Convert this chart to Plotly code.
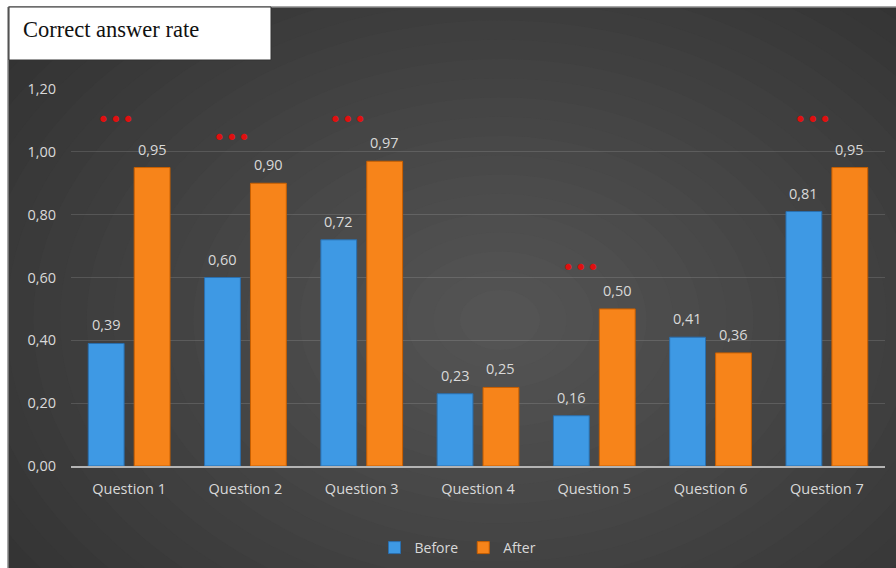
import plotly.graph_objects as go

categories = ["Question 1", "Question 2", "Question 3", "Question 4", "Question 5", "Question 6", "Question 7"]
before = [0.39, 0.60, 0.72, 0.23, 0.16, 0.41, 0.81]
after = [0.95, 0.90, 0.97, 0.25, 0.50, 0.36, 0.95]
sig_categories = ["Question 1", "Question 2", "Question 3", "Question 5", "Question 7"]
sig_levels = [1.10, 1.045, 1.10, 0.63, 1.10]
sig_marks = ["***", "***", "***", "***", "***"]
y_ticks = [0.0, 0.2, 0.4, 0.6, 0.8, 1.0, 1.2]

W, H = 896, 568
L, R, T, B = 71, 11, 89, 102
pw, ph = W - L - R, H - T - B
BARGAP, GROUPGAP = 0.21, 0.22

def px_x(p):
    return (p - L) / pw

def px_y(p):
    return (H - B - p) / ph

fig = go.Figure()
fig.add_trace(go.Bar(
    x=categories, y=before, name="Before",
    marker=dict(color="#3e99e4", line=dict(color="#2a6fae", width=1)),
))
fig.add_trace(go.Bar(
    x=categories, y=after, name="After",
    marker=dict(color="#f7841a", line=dict(color="#c85f00", width=1)),
))

shapes = []
# radial-ish gradient background
n = 28
cx, cy = 500, 320
outer = (44, 44, 44)
inner = (84, 84, 84)
for i in range(n):
    f = i / (n - 1)
    rx = 720 * (1 - f) + 40
    ry = 520 * (1 - f) + 30
    c = tuple(int(outer[k] + (inner[k] - outer[k]) * f) for k in range(3))
    shapes.append(dict(type="circle", xref="paper", yref="paper",
                       x0=px_x(cx - rx), x1=px_x(cx + rx), y0=px_y(cy + ry), y1=px_y(cy - ry),
                       fillcolor="rgb(%d,%d,%d)" % c, line=dict(width=0), layer="below"))
# white margins
shapes.append(dict(type="rect", xref="paper", yref="paper", x0=px_x(-5), x1=px_x(8), y0=px_y(H + 5), y1=px_y(-5),
                   fillcolor="white", line=dict(width=0), layer="below"))
shapes.append(dict(type="rect", xref="paper", yref="paper", x0=px_x(-5), x1=px_x(W + 5), y0=px_y(7), y1=px_y(-5),
                   fillcolor="white", line=dict(width=0), layer="below"))
# border lines
shapes.append(dict(type="line", xref="paper", yref="paper", x0=px_x(8), x1=px_x(8), y0=px_y(7), y1=px_y(H + 2),
                   line=dict(color="#8a8a8a", width=1.5), layer="below"))
shapes.append(dict(type="line", xref="paper", yref="paper", x0=px_x(8), x1=px_x(W + 2), y0=px_y(7), y1=px_y(7),
                   line=dict(color="#8a8a8a", width=1.5), layer="below"))
# title box
shapes.append(dict(type="rect", xref="paper", yref="paper", x0=px_x(9), x1=px_x(271), y0=px_y(60), y1=px_y(7),
                   fillcolor="white", line=dict(color="#333333", width=1), layer="above"))

annotations = [dict(text="Correct answer rate", xref="paper", yref="paper", x=px_x(21), y=px_y(30),
                    xanchor="left", yanchor="middle", showarrow=False,
                    font=dict(family="Liberation Serif", size=22.5, color="#111111"))]

# value labels above bars
cat_px = pw / len(categories)
offset = (1 - BARGAP) / 4 * cat_px
for vals, sgn in ((before, -1), (after, 1)):
    for c, v in zip(categories, vals):
        annotations.append(dict(text=f"{v:.2f}".replace(".", ","), x=c, y=v, xref="x", yref="y",
                                xshift=sgn * offset, yshift=7, yanchor="bottom", showarrow=False,
                                font=dict(color="#d9d9d9", size=14.5, family="Open Sans")))

for c, lv, m in zip(sig_categories, sig_levels, sig_marks):
    annotations.append(dict(text="•••", x=c, y=lv, xref="x", yref="y", xshift=-14,
                            showarrow=False, font=dict(color="#e01010", size=21, family="DejaVu Sans")))

fig.update_layout(
    width=W, height=H,
    margin=dict(l=L, r=R, t=T, b=B, autoexpand=False),
    paper_bgcolor="white",
    plot_bgcolor="rgba(0,0,0,0)",
    separators=",.",
    barmode="group", bargap=BARGAP, bargroupgap=GROUPGAP,
    shapes=shapes, annotations=annotations,
    showlegend=True,
    legend=dict(orientation="h", x=px_x(458), xanchor="center",
                yref="container", y=1 - 548 / H, yanchor="middle",
                font=dict(color="#d9d9d9", size=14, family="Open Sans"),
                bgcolor="rgba(0,0,0,0)", itemwidth=30),
    font=dict(family="Open Sans", color="#d9d9d9"),
    xaxis=dict(showgrid=False, showline=True, linecolor="#b4b4b4", linewidth=2,
               tickfont=dict(size=14.5, color="#d9d9d9"), ticks="", ticklabelstandoff=9),
    yaxis=dict(range=[0, 1.2], tickvals=y_ticks, tickformat=".2f",
               showgrid=True, gridcolor="rgba(255,255,255,0.13)", gridwidth=1,
               zeroline=False, showline=False,
               tickfont=dict(size=14.5, color="#d9d9d9"), ticklabelstandoff=14),
)

fig.write_html("out.html")
